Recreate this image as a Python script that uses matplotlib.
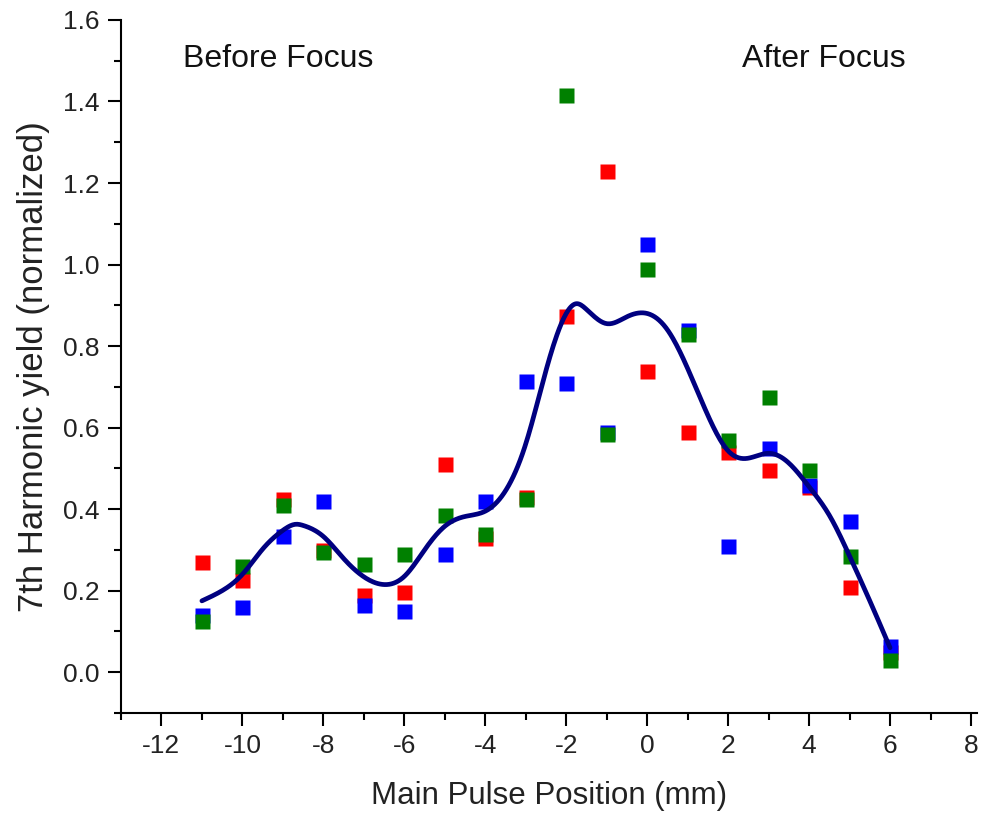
import numpy as np
import matplotlib
matplotlib.use("Agg")
import matplotlib.pyplot as plt
from matplotlib.ticker import MultipleLocator, FormatStrFormatter

plt.rcParams['font.family'] = ['Liberation Sans', 'DejaVu Sans']
plt.rcParams['axes.unicode_minus'] = False

# Main pulse positions (mm)
positions = [-11, -10, -9, -8, -7, -6, -5, -4, -3, -2, -1, 0, 1, 2, 3, 4, 5, 6]

# Three measurement runs of the normalized 7th harmonic yield
run_red = [0.27, 0.227, 0.425, 0.30, 0.19, 0.197, 0.51, 0.33, 0.43, 0.875,
           1.23, 0.74, 0.59, 0.54, 0.495, 0.455, 0.21, 0.05]
run_blue = [0.14, 0.16, 0.335, 0.42, 0.165, 0.15, 0.29, 0.42, 0.715, 0.71,
            0.59, 1.05, 0.84, 0.31, 0.55, 0.46, 0.37, 0.065]
run_green = [0.125, 0.26, 0.41, 0.295, 0.265, 0.29, 0.385, 0.34, 0.425, 1.415,
             0.585, 0.99, 0.83, 0.57, 0.675, 0.495, 0.285, 0.03]

# Smoothed trend curve (knots)
trend_x = [-11, -10.5, -10, -9.5, -9, -8.67, -8.5, -8, -7.5, -7, -6.5, -6, -5.5,
           -5, -4.5, -4, -3.5, -3, -2.5, -2, -1.75, -1.5, -1, -0.5, 0, 0.5, 1,
           1.5, 2, 2.5, 3, 3.5, 4, 4.5, 5, 5.5, 6]
trend_y = [0.175, 0.200, 0.240, 0.302, 0.348, 0.363, 0.360, 0.333, 0.279, 0.234,
           0.215, 0.235, 0.300, 0.358, 0.382, 0.395, 0.445, 0.560, 0.740, 0.880,
           0.904, 0.890, 0.855, 0.872, 0.880, 0.840, 0.745, 0.630, 0.543, 0.525,
           0.537, 0.513, 0.455, 0.385, 0.285, 0.175, 0.060]


def natural_spline(xk, yk, xs):
    xk = np.asarray(xk, float)
    yk = np.asarray(yk, float)
    n = len(xk)
    h = np.diff(xk)
    A = np.zeros((n, n))
    b = np.zeros(n)
    A[0, 0] = A[-1, -1] = 1.0
    for i in range(1, n - 1):
        A[i, i - 1] = h[i - 1]
        A[i, i] = 2 * (h[i - 1] + h[i])
        A[i, i + 1] = h[i]
        b[i] = 3 * ((yk[i + 1] - yk[i]) / h[i] - (yk[i] - yk[i - 1]) / h[i - 1])
    c = np.linalg.solve(A, b)
    idx = np.clip(np.searchsorted(xk, xs) - 1, 0, n - 2)
    dx = xs - xk[idx]
    bb = (yk[idx + 1] - yk[idx]) / h[idx] - h[idx] * (2 * c[idx] + c[idx + 1]) / 3
    d = (c[idx + 1] - c[idx]) / (3 * h[idx])
    return yk[idx] + bb * dx + c[idx] * dx ** 2 + d * dx ** 3


fig = plt.figure(figsize=(9.81, 8.15), dpi=100)
ax = fig.add_axes([0.1233, 0.1252, 0.8727, 0.8503])

ms = 10.8
ax.plot(positions, run_red, 's', color='#ff0000', ms=ms, mec='none', zorder=3)
ax.plot(positions, run_blue, 's', color='#0000ff', ms=ms, mec='none', zorder=3)
ax.plot(positions, run_green, 's', color='#008000', ms=ms, mec='none', zorder=3)

xs = np.linspace(trend_x[0], trend_x[-1], 600)
ax.plot(xs, natural_spline(trend_x, trend_y, xs), color='#000080', lw=3.4,
        solid_capstyle='round', zorder=4)

ax.set_xlim(-13, 8.15)
ax.set_ylim(-0.1, 1.6)

ax.xaxis.set_major_locator(MultipleLocator(2))
ax.xaxis.set_minor_locator(MultipleLocator(1))
ax.yaxis.set_major_locator(MultipleLocator(0.2))
ax.yaxis.set_minor_locator(MultipleLocator(0.1))
ax.yaxis.set_major_formatter(FormatStrFormatter('%.1f'))

for s in ('top', 'right'):
    ax.spines[s].set_visible(False)
for s in ('left', 'bottom'):
    ax.spines[s].set_linewidth(1.5)

ax.tick_params(which='major', direction='out', length=9.5, width=1.5,
               labelsize=19, pad=6, labelcolor='#222222')
ax.tick_params(which='minor', direction='out', length=5, width=1.5)

ax.set_xlabel('Main Pulse Position (mm)', fontsize=22.5, labelpad=16,
              color='#222222')
ax.set_ylabel('7th Harmonic yield (normalized)', fontsize=25, labelpad=9,
              color='#222222')

ax.text(-11.46, 1.505, 'Before Focus', fontsize=23, va='center', ha='left',
        color='#111111')
ax.text(2.35, 1.505, 'After Focus', fontsize=23, va='center', ha='left',
        color='#111111')

fig.savefig('out.png', dpi=100)
